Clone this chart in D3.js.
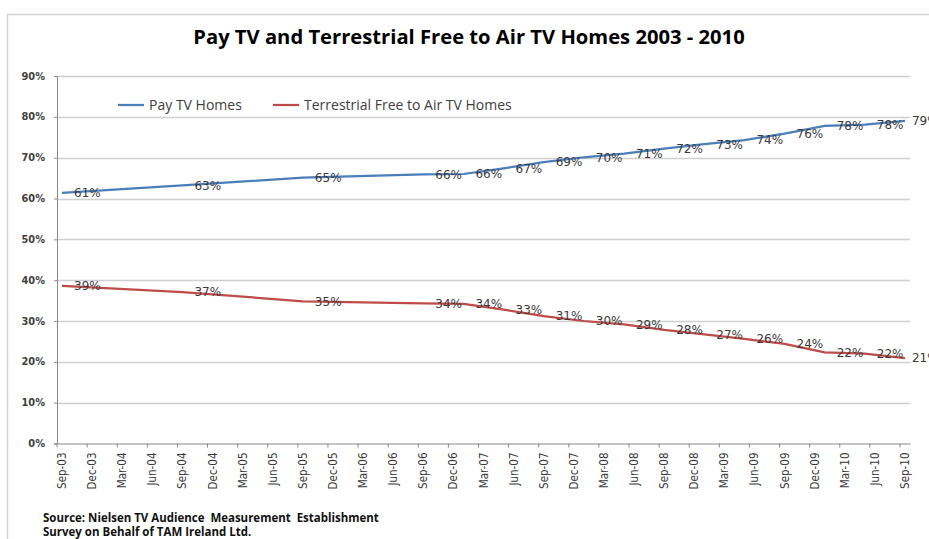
<!DOCTYPE html>
<html><head><meta charset="utf-8">
<script src="https://cdn.jsdelivr.net/npm/d3@7"></script>
<style>html,body{margin:0;padding:0;background:#fff;}svg{display:block;}</style>
</head><body>
<svg id="chart" width="929" height="539"></svg>
<script>
const title = "Pay TV and Terrestrial Free to Air TV Homes 2003 - 2010";
const seriesNames = ["Pay TV Homes", "Terrestrial Free to Air TV Homes"];
const dates = ["Sep-03","Sep-04","Sep-05","Sep-06","Jan-07","May-07","Sep-07","Jan-08","May-08","Sep-08","Jan-09","May-09","Sep-09","Jan-10","May-10","Sep-10"];
const payTV = [61.4,63.2,65.1,65.9,66.0,67.4,68.9,70.1,71.0,72.2,73.3,74.3,75.9,77.8,78.1,79.0];
const terrestrial = [38.6,37.1,34.8,34.3,34.2,32.8,31.2,30.0,29.2,27.8,26.7,25.6,24.4,22.3,22.0,20.9];
const tickLabels = ["Sep-03","Dec-03","Mar-04","Jun-04","Sep-04","Dec-04","Mar-05","Jun-05","Sep-05","Dec-05","Mar-06","Jun-06","Sep-06","Dec-06","Mar-07","Jun-07","Sep-07","Dec-07","Mar-08","Jun-08","Sep-08","Dec-08","Mar-09","Jun-09","Sep-09","Dec-09","Mar-10","Jun-10","Sep-10"];
const yTicks = [0,10,20,30,40,50,60,70,80,90];
const sourceLines = ["Source: Nielsen TV Audience  Measurement  Establishment", "Survey on Behalf of TAM Ireland Ltd."];
const colors = ["#4a7ebb", "#be4b48"];

const svg = d3.select("#chart");
const parse = d3.timeParse("%b-%y");

function fit(sel, w) {
  const n = sel.node();
  const cur = parseFloat(sel.style("font-size"));
  const len = n.getComputedTextLength();
  const size = len > 0 ? cur * w / len : cur;
  sel.style("font-size", size + "px");
  return size;
}

// chart border
svg.append("rect").attr("x", 7.5).attr("y", 14.5).attr("width", 1000).attr("height", 1000)
  .attr("fill", "none").attr("stroke", "#d4d4d4").attr("stroke-width", 1.5);

const L = 57, R = 910, T = 76, B = 443.5;
const months = d3.timeMonth.range(parse("Sep-03"), d3.timeMonth.offset(parse("Sep-10"), 1));
const x = d3.scaleBand().domain(months.map(d => +d)).range([L, R]).padding(0);
const bw = x.bandwidth();
const px = s => x(+parse(s)) + bw / 2;
const y = d3.scaleLinear().domain([0, 90]).range([B, T]);

// gridlines
svg.append("g").selectAll("line").data(yTicks.filter(v => v > 0)).join("line")
  .attr("x1", L).attr("x2", R)
  .attr("y1", d => Math.round(y(d)) + 0.5).attr("y2", d => Math.round(y(d)) + 0.5)
  .attr("stroke", "#cfcfcf").attr("stroke-width", 1.5);

// y axis
const yAxis = svg.append("g").attr("transform", `translate(${L},0)`)
  .call(d3.axisLeft(y).tickValues(yTicks).tickSize(3).tickFormat(d => d + "%"));
yAxis.select(".domain").attr("stroke", "#8a8a8a");
yAxis.selectAll(".tick line").attr("stroke", "#8a8a8a");
yAxis.selectAll(".tick text").attr("x", -12).attr("font-family", "DejaVu Sans").attr("font-weight", "bold")
  .attr("font-size", 9.8).attr("fill", "#404040");

// x axis
const xAxis = svg.append("g").attr("transform", `translate(0,${B})`)
  .call(d3.axisBottom(x).tickValues(tickLabels.map(s => +parse(s))).tickSize(4).tickSizeOuter(0)
    .tickFormat(d => d3.timeFormat("%b-%y")(new Date(d))));
xAxis.select(".domain").attr("stroke", "#8a8a8a");
xAxis.selectAll(".tick line").attr("stroke", "#8a8a8a").attr("transform", `translate(${-bw / 2},0)`);
xAxis.selectAll(".tick text")
  .attr("font-family", "'Liberation Sans Narrow','DejaVu Sans Condensed',Arial")
  .attr("font-size", 11.5).attr("fill", "#3a3a3a")
  .attr("text-anchor", "end").attr("dy", "0.35em")
  .attr("transform", "translate(0,9) rotate(-90)").attr("y", 0).attr("x", 0);

// lines & labels
const series = [payTV, terrestrial];
const line = d3.line().x(d => px(d.date)).y(d => y(d.v));
series.forEach((vals, si) => {
  const data = vals.map((v, i) => ({ date: dates[i], v }));
  svg.append("path").datum(data).attr("d", line).attr("fill", "none")
    .attr("stroke", colors[si]).attr("stroke-width", 2.25).attr("stroke-linejoin", "round");
  svg.append("g").selectAll("text").data(data).join("text")
    .attr("x", (d, i) => px(d.date) + (i === data.length - 1 ? 7 : 12))
    .attr("y", d => y(d.v)).attr("dy", "0.36em")
    .attr("font-family", "DejaVu Sans").attr("font-size", 12).attr("fill", "#3a3a3a")
    .text(d => Math.round(d.v) + "%");
});

// legend
const legendX = [118, 273], legendTextW = [93, 208];
seriesNames.forEach((n, i) => {
  svg.append("line").attr("x1", legendX[i]).attr("x2", legendX[i] + 26).attr("y1", 105).attr("y2", 105)
    .attr("stroke", colors[i]).attr("stroke-width", 2.25);
  const t = svg.append("text").attr("x", legendX[i] + 31).attr("y", 105).attr("dy", "0.35em")
    .attr("font-family", "'Open Sans'").style("font-size", "13px").attr("fill", "#404040").text(n);
  fit(t, legendTextW[i]);
});

// title
const tt = svg.append("text").attr("x", 469).attr("y", 37).attr("dy", "0.35em").attr("text-anchor", "middle")
  .attr("font-family", "'Open Sans'").attr("font-weight", "bold").style("font-size", "17px").attr("fill", "#000").text(title);
fit(tt, 552);

// source
let srcSize = 10;
sourceLines.forEach((s, i) => {
  const t = svg.append("text").attr("x", 43).attr("y", 518 + i * 13.5).attr("dy", "0.35em")
    .attr("font-family", "'Open Sans'").attr("font-weight", "bold").style("font-size", srcSize + "px")
    .attr("fill", "#111").style("white-space", "pre").text(s);
  if (i === 0) srcSize = fit(t, 336);
});
</script>
</body></html>
